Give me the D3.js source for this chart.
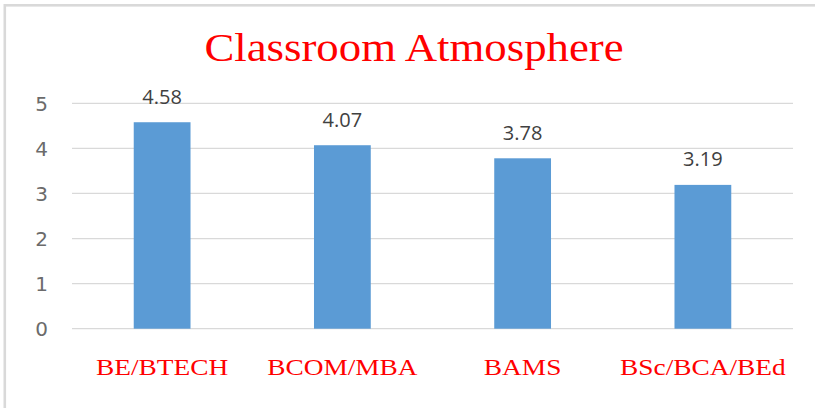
<!DOCTYPE html>
<html>
<head>
<meta charset="utf-8">
<script src="https://cdn.jsdelivr.net/npm/d3@7"></script>
<style>
  body { margin: 0; background: #fff; }
  svg { display: block; }
</style>
</head>
<body>
<div id="chart"></div>
<script>
// chart data
var categories = ["BE/BTECH", "BCOM/MBA", "BAMS", "BSc/BCA/BEd"];
var scores = [4.58, 4.07, 3.78, 3.19];
var yTicks = [0, 1, 2, 3, 4, 5];
var chartTitle = "Classroom Atmosphere";

var width = 815,
    height = 408;

var plotLeft = 72, plotRight = 793, plotTop = 103.3, plotBottom = 328.7;

var svg = d3.select("#chart")
    .append("svg")
    .attr("width", width)
    .attr("height", height);

// outer frame (only top and left edges visible)
svg.append("rect")
    .attr("x", 4.8)
    .attr("y", 5.3)
    .attr("width", 830)
    .attr("height", 430)
    .attr("fill", "none")
    .attr("stroke", "#d9d9d9")
    .attr("stroke-width", 2.6);

var x = d3.scaleBand()
    .domain(categories)
    .range([plotLeft, plotRight])
    .padding(0);

var y = d3.scaleLinear()
    .domain([0, 5])
    .range([plotBottom, plotTop]);

var barWidth = x.bandwidth() * 0.315;

// gridlines
svg.append("g")
    .selectAll("line")
    .data(yTicks)
    .enter().append("line")
    .attr("x1", plotLeft)
    .attr("x2", plotRight)
    .attr("y1", function (d) { return y(d); })
    .attr("y2", function (d) { return y(d); })
    .attr("stroke", "#d9d9d9")
    .attr("stroke-width", 1.3);

// y labels
svg.append("g")
    .selectAll("text")
    .data(yTicks)
    .enter().append("text")
    .attr("x", 48)
    .attr("y", function (d) { return y(d) + 7.5; })
    .attr("text-anchor", "end")
    .style("font-family", "'DejaVu Sans', sans-serif")
    .style("font-size", "20px")
    .style("fill", "#6b6b6b")
    .text(function (d) { return d; });

var data = categories.map(function (c, i) {
    return {name: c, value: scores[i]};
});

// bars
svg.append("g")
    .selectAll("rect")
    .data(data)
    .enter().append("rect")
    .attr("x", function (d) { return x(d.name) + x.bandwidth() / 2 - barWidth / 2; })
    .attr("y", function (d) { return y(d.value); })
    .attr("width", barWidth)
    .attr("height", function (d) { return y(0) - y(d.value); })
    .attr("fill", "#5b9bd5");

// value labels
svg.append("g")
    .selectAll("text")
    .data(data)
    .enter().append("text")
    .attr("x", function (d) { return x(d.name) + x.bandwidth() / 2; })
    .attr("y", function (d) { return y(d.value) - 18.5; })
    .attr("text-anchor", "middle")
    .style("font-family", "'Open Sans', sans-serif")
    .style("font-size", "20px")
    .style("fill", "#404040")
    .text(function (d) { return d.value.toFixed(2); });

// category labels
svg.append("g")
    .selectAll("text")
    .data(categories)
    .enter().append("text")
    .attr("transform", function (d) {
        return "translate(" + (x(d) + x.bandwidth() / 2) + ",375) scale(1.14,1)";
    })
    .attr("text-anchor", "middle")
    .style("font-family", "'Liberation Serif', serif")
    .style("font-size", "24px")
    .style("fill", "#ff0000")
    .text(function (d) { return d; });

// title
svg.append("text")
    .attr("transform", "translate(414,61) scale(1.12,1)")
    .attr("text-anchor", "middle")
    .style("font-family", "'Liberation Serif', serif")
    .style("font-size", "40px")
    .style("fill", "#ff0000")
    .text(chartTitle);
</script>
</body>
</html>
